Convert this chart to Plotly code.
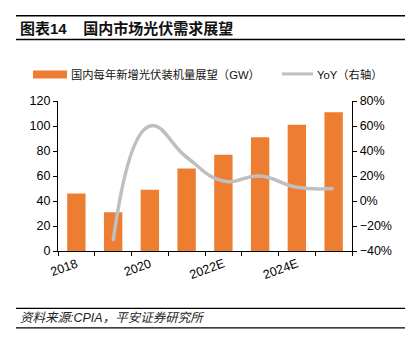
import plotly.graph_objects as go

categories = ['2018', '2019', '2020', '2021', '2022E', '2023E', '2024E', '2025E']
demand_gw = [46, 31, 49, 66, 77, 91, 101, 111]
yoy_pct = [None, -32, 60, 35, 16, 20, 11, 10]
label_every = 2
bar_name = '国内每年新增光伏装机量展望（GW）'
line_name = 'YoY（右轴）'

W, H = 418, 339
L, R, T, B = 58, 352, 101, 250.7

def px(x):
    return (x - L) / (R - L)

def py(y):
    return (B - y) / (B - T)

FONT = "Liberation Sans, Arial, Noto Sans CJK SC"
BAR_C = '#ED7D31'
LINE_C = '#BFBFBF'
xs = list(range(len(categories)))

fig = go.Figure()
fig.add_trace(go.Bar(
    x=xs, y=demand_gw, name=bar_name,
    marker=dict(color=BAR_C, line=dict(width=0)), width=0.5,
))
fig.add_trace(go.Scatter(
    x=xs, y=yoy_pct, name=line_name, yaxis='y2', mode='lines',
    line=dict(color=LINE_C, width=3.5, shape='spline', smoothing=1.3),
    connectgaps=False,
))

tv = xs[::label_every]
fig.update_layout(
    width=W, height=H,
    margin=dict(l=L, r=W - R, t=T, b=H - B, pad=0),
    paper_bgcolor='white', plot_bgcolor='white',
    font=dict(family=FONT, size=12.5, color='black'),
    showlegend=False,
    xaxis=dict(
        range=[-0.5, len(categories) - 0.5], tickmode='array', tickvals=tv,
        ticktext=[categories[i] for i in tv], ticks='', tickangle=-20,
        showline=True, linecolor='black', linewidth=1.3, showgrid=False, zeroline=False,
        minor=dict(tickmode='array', tickvals=[i - 0.5 for i in range(len(categories) + 1)],
                   ticks='outside', ticklen=4, tickcolor='black', showgrid=False),
        tickfont=dict(size=12.5),
    ),
    yaxis=dict(
        range=[0, 120], dtick=20, tick0=0, ticks='outside', ticklen=4, tickcolor='black',
        showline=True, linecolor='black', linewidth=1.3, showgrid=False, zeroline=False,
        tickfont=dict(size=12.5),
    ),
    yaxis2=dict(
        range=[-40, 80], dtick=20, tick0=-40, ticks='outside', ticklen=4, tickcolor='black',
        overlaying='y', side='right', ticksuffix='%',
        showline=True, linecolor='black', linewidth=1.3, showgrid=False, zeroline=False,
        tickfont=dict(size=12.5),
    ),
)

# Custom legend
fig.add_shape(type='rect', xref='paper', yref='paper', x0=px(33), x1=px(67), y0=py(78.5), y1=py(70.5),
              fillcolor=BAR_C, line=dict(width=0))
fig.add_annotation(xref='paper', yref='paper', x=px(69), y=py(74.5), xanchor='left', yanchor='middle',
                   text=bar_name, showarrow=False, font=dict(size=11.3, family=FONT, color='#111'))
fig.add_shape(type='line', xref='paper', yref='paper', x0=px(282), x1=px(313), y0=py(74), y1=py(74),
              line=dict(color=LINE_C, width=3))
fig.add_annotation(xref='paper', yref='paper', x=px(315), y=py(74.5), xanchor='left', yanchor='middle',
                   text=line_name, showarrow=False, font=dict(size=11.3, family=FONT, color='#111'))

# Title block
for yy in (16, 39.5):
    fig.add_shape(type='line', xref='paper', yref='paper', x0=px(16), x1=px(405),
                  y0=py(yy), y1=py(yy), line=dict(color='black', width=1.5))
fig.add_annotation(xref='paper', yref='paper', x=px(18), y=py(28.5), xanchor='left', yanchor='middle',
                   text='<b>图表14&nbsp;&nbsp;&nbsp;&nbsp;国内市场光伏需求展望</b>', showarrow=False,
                   font=dict(size=15, family=FONT, color='#111'))

# Footer block
for yy in (308, 327.5):
    fig.add_shape(type='line', xref='paper', yref='paper', x0=px(16), x1=px(405),
                  y0=py(yy), y1=py(yy), line=dict(color='black', width=1.2))
fig.add_annotation(xref='paper', yref='paper', x=px(18), y=py(317.5), xanchor='left', yanchor='middle',
                   text='<i>资料来源:CPIA，平安证券研究所</i>', showarrow=False,
                   font=dict(size=12.5, family=FONT, color='#222'))

fig.write_html('out.html')
